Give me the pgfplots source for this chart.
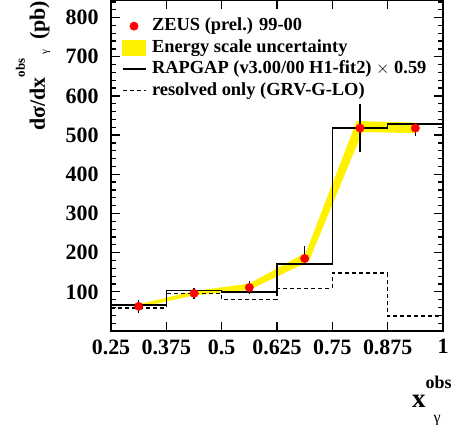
\documentclass[border=0pt]{standalone}
\usepackage{pgfplots}
\pgfplotsset{compat=1.18}
\usepackage{amsmath}
\usepackage{fontspec}
\setmainfont{Liberation Serif}

\begin{document}
\begin{tikzpicture}
\begin{axis}[
  scale only axis, width=332bp, height=331bp,
  xmin=0.25, xmax=1, ymin=0, ymax=845,
  axis line style={line width=1.5bp},
  xtick={0.25,0.375,0.5,0.625,0.75,0.875,1},
  xticklabels={0.25,0.375,0.5,0.625,0.75,0.875,1},
  ytick={100,200,300,400,500,600,700,800},
  minor ytick={0,20,...,840},
  tick align=inside,
  major tick length=9bp, minor tick length=5bp,
  every tick/.style={line width=1.3bp, black},
  /pgf/number format/assume math mode=true,
  tick label style={font=\bfseries\fontsize{22}{22}\selectfont},
  xticklabel style={yshift=-5bp},
  yticklabel style={xshift=-9bp},
  xlabel={{\fontsize{27}{27}\selectfont x}\makebox[0pt][l]{\raisebox{19bp}{\fontsize{18}{18}\selectfont obs}}\hspace{8bp}\raisebox{-15bp}{\fontsize{16}{16}\selectfont\mdseries γ}},
  xlabel style={at={(axis description cs:0.9066,-0.2296)}, anchor=base west, inner sep=0pt, font=\bfseries},
  ylabel={{\fontsize{22}{22}\selectfont dσ/dx}\raisebox{20bp}{\fontsize{13}{13}\selectfont obs}\hspace{4bp}\raisebox{-3bp}{\fontsize{11}{11}\selectfont\mdseries γ}\hspace{10bp}{\fontsize{22}{22}\selectfont (pb)}},
  ylabel style={at={(axis description cs:-0.1988,0.998)}, anchor=base east, inner sep=0pt, font=\bfseries},
  legend style={at={(axis description cs:0.0324,0.9535)}, anchor=north west, draw=none, fill=none,
    inner sep=0pt, outer sep=0pt, column sep=4.5bp, row sep=0bp,
    font=\bfseries\fontsize{18.5}{18.5}\selectfont,
    nodes={inner sep=1.25bp, text height=14bp, text depth=5bp}},
  legend cell align=left,
]
% legend entries (images only)
\addlegendimage{legend image code/.code={\fill[red] (11.5bp,0bp) circle (4.2bp);}}
\addlegendentry{ZEUS (prel.) 99-00}
\addlegendimage{legend image code/.code={\fill[yellow] (0bp,-7.5bp) rectangle (23bp,7.5bp);}}
\addlegendentry{Energy scale uncertainty}
\addlegendimage{legend image code/.code={\draw[black, line width=1.5bp] (0bp,0bp) -- (23bp,0bp);}}
\addlegendentry{RAPGAP (v3.00/00 H1-fit2) $\times$ 0.59}
\addlegendimage{legend image code/.code={\draw[black, line width=1.3bp, dash pattern=on 4bp off 3bp] (0bp,0bp) -- (23bp,0bp);}}
\addlegendentry{resolved only (GRV-G-LO)}

% energy scale uncertainty band
\addplot[fill=yellow, draw=none, forget plot] coordinates {
  (0.3125,68) (0.4375,102) (0.5625,121) (0.690,200) (0.805,536) (0.9375,532)
  (0.9375,505) (0.818,508) (0.697,178) (0.5625,105) (0.4375,91) (0.3125,60)
} -- cycle;

% RAPGAP
\addplot[const plot, black, line width=1.5bp, mark=none, forget plot] coordinates {
  (0.25,67) (0.375,103) (0.5,99) (0.625,171) (0.75,518) (0.875,529) (1,529)
};
% resolved only
\addplot[const plot, black, line width=1.3bp, dash pattern=on 4bp off 3bp, mark=none, forget plot] coordinates {
  (0.25,59) (0.375,95) (0.5,81) (0.625,109) (0.75,148) (0.875,38) (1,38)
};
% ZEUS data
\addplot[only marks, mark=*, mark size=4.2bp, color=red, mark options={fill=red, draw=red}, forget plot,
  error bars/.cd, y dir=both, y explicit, error mark=none,
  error bar style={black, line width=1.3bp}] coordinates {
  (0.3125,63) += (0,16) -= (0,16)
  (0.4375,96) += (0,15) -= (0,15)
  (0.5625,111) += (0,16) -= (0,16)
  (0.6875,185) += (0,31) -= (0,17)
  (0.8125,518) += (0,62) -= (0,61)
  (0.9375,518) += (0,12) -= (0,21)
};
\end{axis}
\pgfresetboundingbox
\path[use as bounding box] (-111bp,-94bp) rectangle (342bp,331bp);
\end{tikzpicture}
\end{document}
